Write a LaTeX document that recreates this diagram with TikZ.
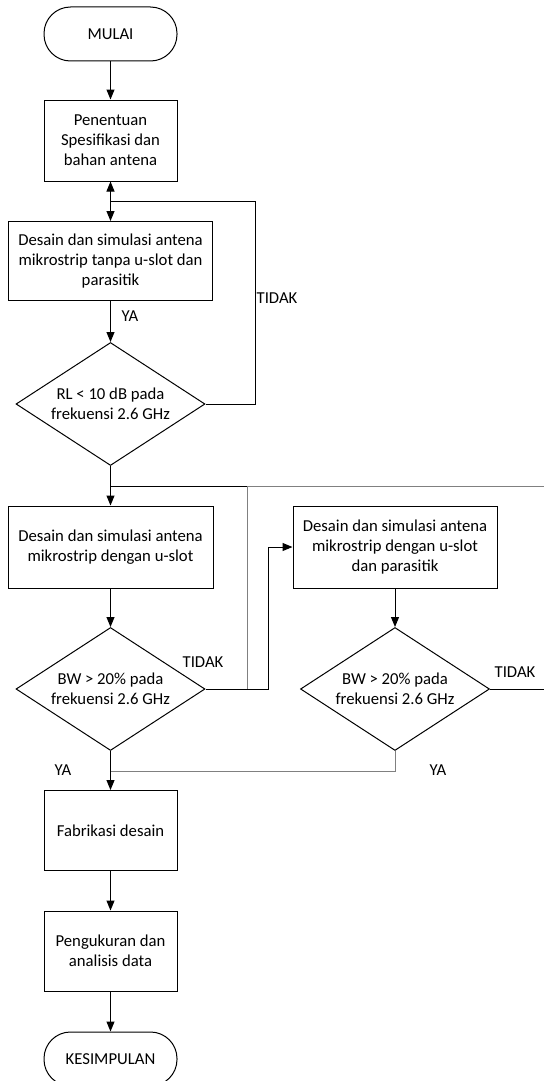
\documentclass[tikz,border=0pt]{standalone}
\usepackage{fontspec}
\setmainfont{Carlito}
\usetikzlibrary{shapes.geometric,arrows.meta}
\begin{document}
\begin{tikzpicture}[x=1pt,y=-1pt,
  every node/.style={font=\fontsize{16.7}{20}\selectfont},
  term/.style={draw, rectangle, rounded corners=26.5pt, minimum width=133pt, minimum height=54pt, inner sep=0pt, line width=1pt},
  proc/.style={draw, rectangle, align=center, inner sep=0pt, line width=1pt},
  dec/.style={draw, diamond, aspect=1.54, inner sep=0pt, minimum width=189pt, minimum height=123pt, align=center, line width=1pt},
  arr/.style={-{Triangle[width=8pt,length=10pt]}, line width=1pt},
  ln/.style={line width=1pt},
  gln/.style={line width=1pt, draw=black!50},
  lab/.style={inner sep=0pt}]
\clip (0,0) rectangle (544,1081);
\node[term] (mulai) at (110.5,34) {MULAI};
\node[proc, minimum width=133pt, minimum height=81pt] (spek) at (110.5,140.5) {Penentuan\\Spesifikasi dan\\bahan antena};
\node[proc, minimum width=204pt, minimum height=79pt] (des1) at (110.5,261) {Desain dan simulasi antena\\mikrostrip tanpa u-slot dan\\parasitik};
\node[dec] (d1) at (110.5,404) {RL < 10 dB pada\\frekuensi 2.6 GHz};
\node[proc, minimum width=205pt, minimum height=82pt] (des2) at (110.5,547) {Desain dan simulasi antena\\mikrostrip dengan u-slot};
\node[proc, minimum width=204pt, minimum height=82pt] (des3) at (395,547) {Desain dan simulasi antena\\mikrostrip dengan u-slot\\dan parasitik};
\node[dec] (d2) at (110.5,689) {BW > 20\% pada\\frekuensi 2.6 GHz};
\node[dec] (d3) at (395,689) {BW > 20\% pada\\frekuensi 2.6 GHz};
\node[proc, minimum width=133pt, minimum height=80pt] (fab) at (110.5,830.5) {Fabrikasi desain};
\node[proc, minimum width=133pt, minimum height=80pt] (peng) at (110.5,951) {Pengukuran dan\\analisis data};
\node[term] (kes) at (110.5,1059) {KESIMPULAN};

\coordinate (j1) at (110.5,201);
\coordinate (r1) at (255,201);
\coordinate (j2) at (110.5,486);
\coordinate (g1) at (247,486);
\coordinate (e1) at (544,486);
\coordinate (g2) at (247,689);
\coordinate (k1) at (268,689);
\coordinate (e2) at (544,689);
\coordinate (m) at (110.5,771);

\draw[arr] (mulai) -- (spek);
\draw[ln] (d1.east) -| (r1) -- (j1);
\draw[arr] (j1) -- (spek.south);
\draw[arr] (j1) -- (des1.north);
\draw[arr] (des1) -- (d1);
\draw[ln] (d1.south) -- (j2);
\draw[arr] (j2) -- (des2.north);
\draw[ln] (j2) -- (g1);
\draw[gln] (g1) -- (e1);
\draw[gln] (g2) -- (g1);
\draw[arr] (d2.east) -- (k1) |- (des3.west);
\draw[arr] (des2) -- (d2);
\draw[arr] (des3) -- (d3);
\draw[ln] (d3.east) -- (e2);
\draw[gln] (d3.south) |- (m);
\draw[arr] (d2.south) -- (fab.north);
\draw[arr] (fab) -- (peng);
\draw[arr] (peng) -- (kes);

\node[lab] (ya1) at (130,316) {YA};
\node[lab] (t1) at (277,298) {TIDAK};
\node[lab] (t2) at (203,662) {TIDAK};
\node[lab] (t3) at (515,672) {TIDAK};
\node[lab] (ya2) at (63,770) {YA};
\node[lab] (ya3) at (438,770) {YA};
\end{tikzpicture}
\end{document}
